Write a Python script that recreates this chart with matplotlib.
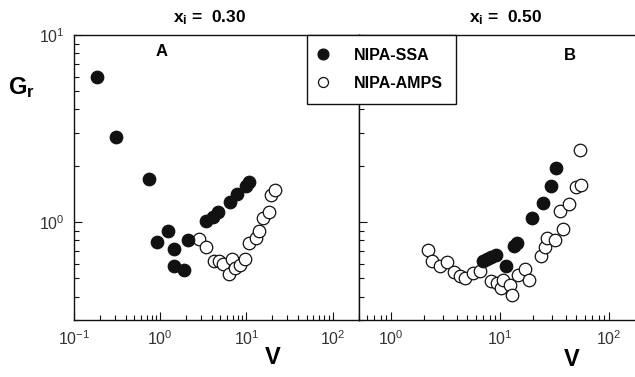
import matplotlib
matplotlib.use("Agg")
import matplotlib.pyplot as plt
from matplotlib.ticker import LogLocator, NullFormatter
from matplotlib.lines import Line2D

plt.rcParams["font.family"] = ["Liberation Sans", "DejaVu Sans"]
plt.rcParams["mathtext.fontset"] = "custom"
plt.rcParams["mathtext.rm"] = "Liberation Sans"
plt.rcParams["mathtext.bf"] = "Liberation Sans:bold"
plt.rcParams["mathtext.it"] = "Liberation Sans:italic"

# panel A, x_i = 0.30
a_ssa_v = [0.183, 0.308, 0.751, 0.93, 1.225, 1.43, 1.43, 1.87, 2.12,
           3.36, 4.09, 4.72, 6.40, 7.78, 10.0, 10.6]
a_ssa_g = [5.99, 2.86, 1.70, 0.782, 0.899, 0.720, 0.584, 0.556, 0.798,
           1.01, 1.063, 1.139, 1.278, 1.41, 1.56, 1.63]
a_amps_v = [2.79, 3.36, 4.17, 4.76, 5.30, 6.75, 6.22, 7.31, 8.36, 9.55,
            10.6, 12.8, 13.9, 15.5, 18.2, 19.2, 21.3]
a_amps_g = [0.814, 0.738, 0.621, 0.621, 0.599, 0.637, 0.530, 0.570, 0.592,
            0.637, 0.775, 0.824, 0.899, 1.054, 1.135, 1.40, 1.49]

# panel B, x_i = 0.50
b_ssa_v = [6.9, 7.5, 8.3, 9.2, 11.35, 13.3, 14.2, 19.5, 24.6, 28.9, 32.7]
b_ssa_g = [0.618, 0.632, 0.650, 0.671, 0.581, 0.749, 0.778, 1.053, 1.266,
           1.566, 1.95]
b_amps_v = [2.17, 2.36, 2.82, 3.24, 3.73, 4.23, 4.70, 5.61, 6.46, 8.27,
            9.25, 10.2, 10.6, 12.2, 12.9, 14.5, 16.7, 18.3, 23.4, 25.5,
            27.0, 31.5, 37.5, 35.0, 42.3, 49.8, 54.6, 53.4]
b_amps_g = [0.707, 0.618, 0.586, 0.613, 0.539, 0.514, 0.504, 0.535, 0.546,
            0.483, 0.475, 0.445, 0.493, 0.464, 0.410, 0.525, 0.562, 0.493,
            0.662, 0.737, 0.824, 0.807, 0.920, 1.14, 1.255, 1.55, 1.585, 2.44]

series_names = ["NIPA-SSA", "NIPA-AMPS"]
panel_titles = [r"$\mathbf{x_i}$ =  0.30", r"$\mathbf{x_i}$ =  0.50"]
panel_letters = ["A", "B"]

W, H = 635, 377
fig = plt.figure(figsize=(W / 100, H / 100), dpi=100)

ax_a = fig.add_axes([74 / W, 1 - 320 / H, 284.5 / W, 285 / H])
ax_b = fig.add_axes([358.5 / W, 1 - 320 / H, 283.6 / W, 285 / H])

ink = "#111111"
ms = 9

for ax, xlim, sv, sg, av, ag in [
    (ax_a, (0.1, 200), a_ssa_v, a_ssa_g, a_amps_v, a_amps_g),
    (ax_b, (0.5, 200), b_ssa_v, b_ssa_g, b_amps_v, b_amps_g),
]:
    ax.set_xscale("log")
    ax.set_yscale("log")
    ax.set_xlim(*xlim)
    ax.set_ylim(0.3, 10)
    ax.plot(av, ag, "o", ms=ms, mfc="white", mec=ink, mew=0.9, ls="none")
    ax.plot(sv, sg, "o", ms=ms, mfc=ink, mec=ink, mew=0.9, ls="none")
    for side in ax.spines.values():
        side.set_linewidth(1.0)
        side.set_color(ink)
    ax.xaxis.set_minor_locator(LogLocator(base=10, subs=range(2, 10), numticks=20))
    ax.yaxis.set_minor_locator(LogLocator(base=10, subs=range(2, 10), numticks=20))
    ax.xaxis.set_minor_formatter(NullFormatter())
    ax.yaxis.set_minor_formatter(NullFormatter())
    ax.tick_params(which="both", direction="in", top=False, right=False,
                   color=ink, width=0.8)
    ax.tick_params(which="major", length=6, labelsize=11.5, labelcolor="#333333", pad=7)
    ax.tick_params(which="minor", length=3.5)

ax_b.tick_params(axis="y", which="both", labelleft=False)

# titles, panel letters, axis labels
fig.text(210 / W, 1 - 18 / H, panel_titles[0], ha="center", va="center",
         fontsize=12.5, fontweight="bold")
fig.text(506 / W, 1 - 18 / H, panel_titles[1], ha="center", va="center",
         fontsize=12.5, fontweight="bold")
fig.text(162 / W, 1 - 52 / H, panel_letters[0], ha="center", va="center",
         fontsize=12, fontweight="bold")
fig.text(570 / W, 1 - 56 / H, panel_letters[1], ha="center", va="center",
         fontsize=12, fontweight="bold")
fig.text(8 / W, 1 - 88 / H, r"$\mathbf{G_r}$", ha="left", va="center", fontsize=17)
fig.text(273 / W, 1 - 358 / H, "V", ha="center", va="center",
         fontsize=17, fontweight="bold")
fig.text(572 / W, 1 - 360 / H, "V", ha="center", va="center",
         fontsize=17, fontweight="bold")

handles = [
    Line2D([], [], marker="o", ls="none", ms=7.8, mfc=ink, mec=ink, mew=0.9),
    Line2D([], [], marker="o", ls="none", ms=7.2, mfc="white", mec=ink, mew=0.9),
]
leg = fig.legend(handles, series_names, loc="upper left",
                 bbox_to_anchor=(307 / W, 1 - 35 / H), borderaxespad=0,
                 frameon=True, fancybox=False, framealpha=1, edgecolor=ink,
                 prop={"weight": "bold", "size": 11.5}, borderpad=0.8,
                 handlelength=0.4, handletextpad=1.75, labelspacing=0.83)
leg.get_frame().set_linewidth(1.0)

fig.savefig("out.png", dpi=100)
plt.close(fig)
